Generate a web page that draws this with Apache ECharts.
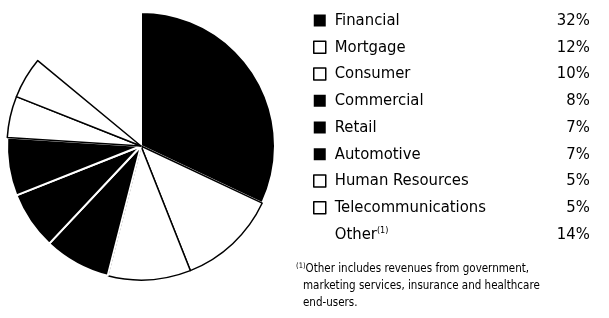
<!DOCTYPE html>
<html>
<head>
<meta charset="utf-8">
<script src="https://cdn.jsdelivr.net/npm/echarts@6/dist/echarts.min.js"></script>
<style>
  html, body { margin: 0; padding: 0; background: #fff; }
  #chart { width: 609px; height: 318px; }
</style>
</head>
<body>
<div id="chart"></div>
<script>
// revenue mix by customer segment
const segments = ['Financial', 'Mortgage', 'Consumer', 'Commercial', 'Retail',
  'Automotive', 'Human Resources', 'Telecommunications', 'Other'];
const shares = [32, 12, 10, 8, 7, 7, 5, 5, 14];
// fill of each wedge: 1 = black, 0 = white, -1 = not drawn
const fills = [1, 0, 0, 1, 1, 1, 0, 0, -1];
const footnote = ['Other includes revenues from government,',
  'marketing services, insurance and healthcare',
  'end-users.'];

const FONT = '"DejaVu Sans Condensed", "Liberation Sans Narrow", sans-serif';

let chartDom = document.getElementById('chart');
let myChart = echarts.init(chartDom);

function sliceStyle(f) {
  if (f === 1) return { color: '#000', borderColor: '#fff', borderWidth: 2 };
  if (f === 0) return { color: '#fff', borderColor: '#000', borderWidth: 1.5 };
  return { color: 'rgba(0,0,0,0)', borderWidth: 0 };
}
function iconStyle(f) {
  if (f === 1) return { color: '#000', borderWidth: 0 };
  if (f === 0) return { color: '#fff', borderColor: '#000', borderWidth: 1.5 };
  return { color: 'rgba(0,0,0,0)', borderWidth: 0 };
}

let pieData = segments.map((name, i) => ({
  name: name,
  value: shares[i],
  itemStyle: sliceStyle(fills[i])
}));
let legendData = segments.map((name, i) => ({
  name: name,
  icon: 'rect',
  itemStyle: iconStyle(fills[i])
}));

let option = {
  animation: false,
  backgroundColor: '#fff',
  legend: {
    orient: 'vertical',
    left: 308,
    top: 7,
    itemWidth: 12,
    itemHeight: 12,
    itemGap: 9.75,
    selectedMode: false,
    data: legendData,
    formatter: function (name) {
      let i = segments.indexOf(name);
      let label = name === 'Other' ? '{n|Other}{s|(1)}' : '{n|' + name + '}';
      return label + '{v|' + shares[i] + '%}';
    },
    textStyle: {
      fontFamily: FONT,
      color: '#000',
      rich: {
        n: { fontFamily: FONT, fontSize: 16.5, color: '#000', padding: [0, 0, 0, 4], lineHeight: 20 },
        s: { fontFamily: FONT, fontSize: 9, color: '#000', padding: [0, 0, 8, 0], lineHeight: 20 },
        v: { fontFamily: FONT, fontSize: 16.5, color: '#000', align: 'right', lineHeight: 20 }
      },
      width: 259
    }
  },
  graphic: [
    {
      type: 'text',
      left: 296,
      top: 262,
      style: {
        text: '{s|(1)}{t|' + footnote[0] + '}\n{u|' + footnote[1] + '}\n{u|' + footnote[2] + '}',
        fill: '#000',
        rich: {
          s: { fontFamily: FONT, fontSize: 7.5, padding: [0, 0, 6, 0], lineHeight: 17 },
          t: { fontFamily: FONT, fontSize: 11.5, lineHeight: 17 },
          u: { fontFamily: FONT, fontSize: 11.5, lineHeight: 17, padding: [0, 0, 0, 7] }
        }
      }
    }
  ],
  series: [
    {
      name: 'Revenue mix',
      type: 'pie',
      center: [141, 146],
      radius: [0, 134],
      startAngle: 90,
      clockwise: true,
      label: { show: false },
      labelLine: { show: false },
      emphasis: { disabled: true },
      silent: true,
      data: pieData
    }
  ]
};
myChart.setOption(option);
</script>
</body>
</html>
